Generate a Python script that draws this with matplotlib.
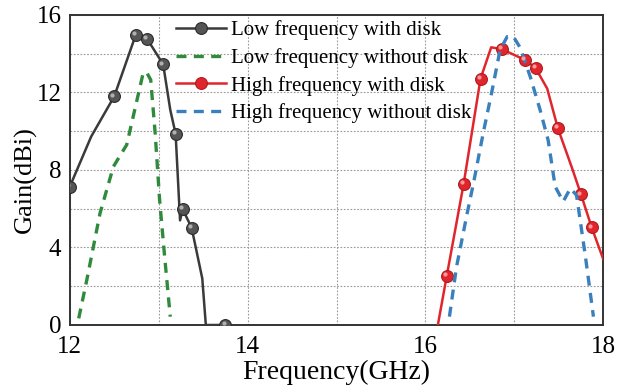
import matplotlib
matplotlib.use("Agg")
import matplotlib.pyplot as plt
from matplotlib.transforms import offset_copy

plt.rcParams['font.family'] = ['Liberation Serif', 'DejaVu Serif']

# Data
low_disk_x = [12.0, 12.24, 12.5, 12.74, 12.87, 13.05, 13.13, 13.19, 13.24, 13.27, 13.37, 13.49, 13.53, 13.75]
low_disk_y = [7.14, 9.72, 11.8, 14.95, 14.76, 13.45, 11.1, 9.87, 5.4, 5.97, 5.02, 2.4, 0.0, 0.0]
low_disk_marks = [0, 2, 3, 4, 5, 7, 9, 10, 13]

low_nodisk_x = [12.1, 12.19, 12.34, 12.49, 12.64, 12.73, 12.82, 12.86, 12.91, 12.96, 13.01, 13.07, 13.13]
low_nodisk_y = [0.34, 2.3, 5.77, 8.17, 9.3, 11.1, 12.9, 13.07, 12.65, 9.9, 6.45, 3.35, 0.43]

high_disk_x = [16.14, 16.24, 16.43, 16.62, 16.74, 16.86, 17.12, 17.24, 17.37, 17.49, 17.65, 17.75, 17.87, 18.0]
high_disk_y = [0.0, 2.53, 7.28, 12.71, 14.33, 14.23, 13.68, 13.25, 12.2, 10.15, 8.09, 6.74, 5.04, 3.4]
high_disk_marks = [1, 2, 3, 5, 6, 7, 9, 11, 12]

high_nodisk_x = [16.27, 16.35, 16.47, 16.54, 16.65, 16.75, 16.84, 16.92, 16.99, 17.07, 17.18, 17.29, 17.38, 17.46, 17.55, 17.63, 17.70, 17.80, 17.89]
high_nodisk_y = [0.43, 3.0, 5.77, 7.3, 9.9, 12.1, 14.2, 14.88, 14.88, 14.28, 12.8, 11.1, 9.55, 7.14, 6.37, 7.05, 6.7, 3.53, 0.43]

labels = ["Low frequency with disk", "Low frequency without disk",
          "High frequency with disk", "High frequency without disk"]

c_black = "#3a3a3a"
c_green = "#2f8a3c"
c_red = "#e0262c"
c_blue = "#3a80bd"

fig = plt.figure(figsize=(6.29, 3.90), dpi=100)
ax = fig.add_axes([0.111, 0.1667, 0.848, 0.795])

def ball_line(x, y, marks, color, face, edge, hl, label):
    ln, = ax.plot(x, y, color=color, lw=1.8, marker='o', markevery=marks,
                  markersize=8.5, markerfacecolor=face, markeredgecolor=edge,
                  markeredgewidth=0.8, label=label, zorder=3)
    tr = offset_copy(ax.transData, fig=fig, x=-1.3, y=1.3, units='points')
    xs = [x[i] for i in marks]
    ys = [y[i] for i in marks]
    ax.plot(xs, ys, ls='none', marker='o', markersize=3, markerfacecolor=hl,
            markeredgecolor='none', transform=tr, zorder=4)
    return ln

h1 = ball_line(low_disk_x, low_disk_y, low_disk_marks, c_black, "#555555", "#2a2a2a", "#b0b0b0", labels[0])
h2, = ax.plot(low_nodisk_x, low_nodisk_y, color=c_green, lw=2.4, ls=(0, (3, 2.2)), label=labels[1], zorder=3)
h3 = ball_line(high_disk_x, high_disk_y, high_disk_marks, c_red, "#e0262c", "#b01820", "#ff9a9a", labels[2])
h4, = ax.plot(high_nodisk_x, high_nodisk_y, color=c_blue, lw=2.4, ls=(0, (3, 2.2)), label=labels[3], zorder=3)

ax.set_xlim(12, 18)
ax.set_ylim(0, 16)
ax.set_xticks([12, 14, 16, 18])
ax.set_xticks([13, 15, 17], minor=True)
ax.set_yticks([0, 4, 8, 12, 16])
ax.set_yticks([2, 6, 10, 14], minor=True)
ax.grid(True, which='both', ls=(0, (1.5, 1.5)), color='#999999', lw=0.8)
ax.set_axisbelow(True)
ax.tick_params(which='both', length=0, labelsize=18)
ax.tick_params(axis='x', pad=8)
ax.tick_params(axis='y', pad=6)
ax.set_xlabel("Frequency(GHz)", fontsize=20, labelpad=1)
ax.set_ylabel("Gain(dBi)", fontsize=19)
ax.yaxis.set_label_coords(-0.062, 0.47)
for s in ax.spines.values():
    s.set_color('#333333')
    s.set_linewidth(1.4)

ax.legend(handles=[h1, h2, h3, h4], loc='upper left', bbox_to_anchor=(0.195, 0.99),
          frameon=False, fontsize=15, handlelength=2.4, handletextpad=0.25,
          labelspacing=0.38, borderpad=0.1, borderaxespad=0)

fig.savefig("out.png", dpi=100)
